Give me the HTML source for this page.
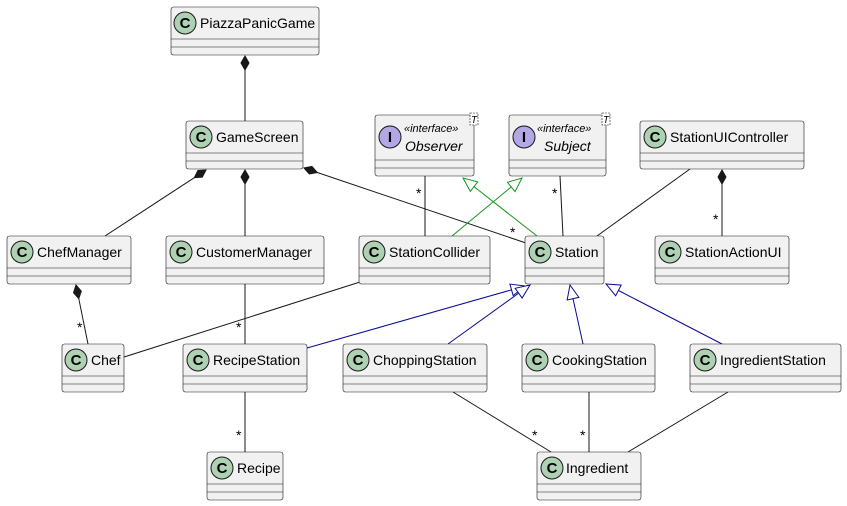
<!DOCTYPE html>
<html><head><meta charset="utf-8"><style>
html,body{margin:0;padding:0;background:#fff;}
svg{display:block;font-family:"Liberation Sans","DejaVu Sans",sans-serif;}
.b{fill:#F1F1F1;stroke:#181818;stroke-width:0.6;}
.s{stroke:#181818;stroke-width:0.6;}
.l{stroke:#181818;stroke-width:1;fill:none;}
.g{stroke:#14961E;stroke-width:1;fill:none;}
.u{stroke:#0A0A96;stroke-width:1;fill:none;}
.d{fill:#181818;stroke:#181818;stroke-width:1;}
.n{font-size:14px;fill:#000;}
.st{font-size:14px;fill:#000;}
.ci{fill:#ADD1B2;stroke:#181818;stroke-width:1;}
.ii{fill:#B4A7E5;stroke:#181818;stroke-width:1;}
.cl{font-size:15px;font-weight:bold;fill:#000;text-anchor:middle;}
</style></head><body>
<svg width="847" height="506" viewBox="0 0 847 506" xmlns="http://www.w3.org/2000/svg">
<defs>
<marker id="tg" viewBox="0 0 16 14" refX="15" refY="7" markerWidth="16" markerHeight="14" markerUnits="userSpaceOnUse" orient="auto">
<path d="M1,1 L15,7 L1,13 Z" fill="#fff" stroke="#14961E" stroke-width="1"/></marker>
<marker id="tu" viewBox="0 0 16 14" refX="15" refY="7" markerWidth="16" markerHeight="14" markerUnits="userSpaceOnUse" orient="auto">
<path d="M1,1 L15,7 L1,13 Z" fill="#fff" stroke="#0A0A96" stroke-width="1"/></marker>
</defs>

<!-- edges -->
<line class="l" x1="245" y1="70" x2="245" y2="121"/>
<polygon class="d" points="245,56 249,63 245,70 241,63"/>
<line class="l" x1="194.3" y1="177.7" x2="105" y2="236"/>
<polygon class="d" points="206,170 202.3,177.2 194.3,177.7 197.9,170.5"/>
<line class="l" x1="245" y1="184" x2="245" y2="236"/>
<polygon class="d" points="245,170 249,177 245,184 241,177"/>
<line class="l" x1="317.3" y1="172.5" x2="526" y2="243"/>
<polygon class="d" points="304,168 309.3,174 317.3,172.5 311.9,166.4"/>
<line class="l" x1="425" y1="176" x2="425" y2="236"/>
<line class="l" x1="560" y1="176" x2="563" y2="236"/>
<line class="l" x1="690" y1="169" x2="597" y2="236"/>
<line class="l" x1="722" y1="184" x2="722" y2="236"/>
<polygon class="d" points="722,170 726,177 722,184 718,177"/>
<line class="l" x1="78.8" y1="298.7" x2="88" y2="344"/>
<polygon class="d" points="76,285 73.5,292.7 78.8,298.7 81.3,291.1"/>
<line class="l" x1="360" y1="282" x2="124" y2="357"/>
<line class="l" x1="245" y1="284" x2="245" y2="344"/>
<line class="l" x1="245" y1="392" x2="245" y2="452"/>
<line class="l" x1="453" y1="392" x2="551" y2="452"/>
<line class="l" x1="589" y1="392" x2="589" y2="452"/>
<line class="l" x1="728" y1="392" x2="628" y2="452"/>
<line class="g" x1="452" y1="236" x2="522" y2="178" marker-end="url(#tg)"/>
<line class="g" x1="537" y1="236" x2="463" y2="178" marker-end="url(#tg)"/>
<line class="u" x1="307" y1="348" x2="525" y2="286" marker-end="url(#tu)"/>
<line class="u" x1="448" y1="344" x2="530" y2="285" marker-end="url(#tu)"/>
<line class="u" x1="583" y1="344" x2="570" y2="285" marker-end="url(#tu)"/>
<line class="u" x1="722" y1="344" x2="606" y2="284" marker-end="url(#tu)"/>

<g class="st">
<text x="416" y="198">*</text>
<text x="552" y="198">*</text>
<text x="510" y="237">*</text>
<text x="713" y="224">*</text>
<text x="77" y="332">*</text>
<text x="236" y="332">*</text>
<text x="236" y="440">*</text>
<text x="532" y="440">*</text>
<text x="580" y="440">*</text>
</g>

<g id="boxes">
<rect class="b" x="171" y="7" width="148" height="48" rx="2.5"/><line class="s" x1="171" y1="39" x2="319" y2="39"/><line class="s" x1="171" y1="47" x2="319" y2="47"/>
<circle class="ci" cx="185" cy="23" r="11"/><text class="cl" x="185" y="28">C</text><text class="n" x="200" y="28">PiazzaPanicGame</text>

<rect class="b" x="186" y="121" width="117" height="48" rx="2.5"/><line class="s" x1="186" y1="153" x2="303" y2="153"/><line class="s" x1="186" y1="161" x2="303" y2="161"/>
<circle class="ci" cx="201" cy="137" r="11"/><text class="cl" x="201" y="142">C</text><text class="n" x="216" y="142">GameScreen</text>

<rect class="b" x="375" y="115" width="99" height="61" rx="2.5"/><line class="s" x1="375" y1="160" x2="474" y2="160"/><line class="s" x1="375" y1="168" x2="474" y2="168"/>
<circle class="ii" cx="390" cy="137" r="11"/><text class="cl" x="390" y="142">I</text>
<text x="404" y="132" style="font-size:11px;font-style:italic">«interface»</text>
<text x="405" y="151" style="font-size:14px;font-style:italic">Observer</text>
<rect x="470" y="113" width="8" height="12" fill="#fff" stroke="#181818" stroke-width="0.6" stroke-dasharray="2,1"/><text x="471" y="123" style="font-size:10px;font-style:italic">T</text>

<rect class="b" x="509" y="115" width="97" height="61" rx="2.5"/><line class="s" x1="509" y1="160" x2="606" y2="160"/><line class="s" x1="509" y1="168" x2="606" y2="168"/>
<circle class="ii" cx="524" cy="137" r="11"/><text class="cl" x="524" y="142">I</text>
<text x="537" y="132" style="font-size:11px;font-style:italic">«interface»</text>
<text x="544" y="151" style="font-size:14px;font-style:italic">Subject</text>
<rect x="602" y="113" width="8" height="12" fill="#fff" stroke="#181818" stroke-width="0.6" stroke-dasharray="2,1"/><text x="603" y="123" style="font-size:10px;font-style:italic">T</text>

<rect class="b" x="640" y="121" width="164" height="48" rx="2.5"/><line class="s" x1="640" y1="153" x2="804" y2="153"/><line class="s" x1="640" y1="161" x2="804" y2="161"/>
<circle class="ci" cx="655" cy="137" r="11"/><text class="cl" x="655" y="142">C</text><text class="n" x="670" y="142">StationUIController</text>

<rect class="b" x="7" y="236" width="124" height="48" rx="2.5"/><line class="s" x1="7" y1="268" x2="131" y2="268"/><line class="s" x1="7" y1="276" x2="131" y2="276"/>
<circle class="ci" cx="22" cy="252" r="11"/><text class="cl" x="22" y="257">C</text><text class="n" x="37" y="257">ChefManager</text>

<rect class="b" x="166" y="236" width="158" height="48" rx="2.5"/><line class="s" x1="166" y1="268" x2="324" y2="268"/><line class="s" x1="166" y1="276" x2="324" y2="276"/>
<circle class="ci" cx="181" cy="252" r="11"/><text class="cl" x="181" y="257">C</text><text class="n" x="196" y="257">CustomerManager</text>

<rect class="b" x="359" y="236" width="131" height="48" rx="2.5"/><line class="s" x1="359" y1="268" x2="490" y2="268"/><line class="s" x1="359" y1="276" x2="490" y2="276"/>
<circle class="ci" cx="374" cy="252" r="11"/><text class="cl" x="374" y="257">C</text><text class="n" x="389" y="257">StationCollider</text>

<rect class="b" x="525" y="236" width="79" height="48" rx="2.5"/><line class="s" x1="525" y1="268" x2="604" y2="268"/><line class="s" x1="525" y1="276" x2="604" y2="276"/>
<circle class="ci" cx="540" cy="252" r="11"/><text class="cl" x="540" y="257">C</text><text class="n" x="555" y="257">Station</text>

<rect class="b" x="655" y="236" width="134" height="48" rx="2.5"/><line class="s" x1="655" y1="268" x2="789" y2="268"/><line class="s" x1="655" y1="276" x2="789" y2="276"/>
<circle class="ci" cx="670" cy="252" r="11"/><text class="cl" x="670" y="257">C</text><text class="n" x="685" y="257">StationActionUI</text>

<rect class="b" x="62" y="344" width="62" height="48" rx="2.5"/><line class="s" x1="62" y1="376" x2="124" y2="376"/><line class="s" x1="62" y1="384" x2="124" y2="384"/>
<circle class="ci" cx="76" cy="360" r="11"/><text class="cl" x="76" y="365">C</text><text class="n" x="91" y="365">Chef</text>

<rect class="b" x="183" y="344" width="124" height="48" rx="2.5"/><line class="s" x1="183" y1="376" x2="307" y2="376"/><line class="s" x1="183" y1="384" x2="307" y2="384"/>
<circle class="ci" cx="198" cy="360" r="11"/><text class="cl" x="198" y="365">C</text><text class="n" x="213" y="365">RecipeStation</text>

<rect class="b" x="343" y="344" width="144" height="48" rx="2.5"/><line class="s" x1="343" y1="376" x2="487" y2="376"/><line class="s" x1="343" y1="384" x2="487" y2="384"/>
<circle class="ci" cx="358" cy="360" r="11"/><text class="cl" x="358" y="365">C</text><text class="n" x="373" y="365">ChoppingStation</text>

<rect class="b" x="522" y="344" width="133" height="48" rx="2.5"/><line class="s" x1="522" y1="376" x2="655" y2="376"/><line class="s" x1="522" y1="384" x2="655" y2="384"/>
<circle class="ci" cx="537" cy="360" r="11"/><text class="cl" x="537" y="365">C</text><text class="n" x="552" y="365">CookingStation</text>

<rect class="b" x="690" y="344" width="151" height="48" rx="2.5"/><line class="s" x1="690" y1="376" x2="841" y2="376"/><line class="s" x1="690" y1="384" x2="841" y2="384"/>
<circle class="ci" cx="705" cy="360" r="11"/><text class="cl" x="705" y="365">C</text><text class="n" x="720" y="365">IngredientStation</text>

<rect class="b" x="207" y="452" width="76" height="48" rx="2.5"/><line class="s" x1="207" y1="484" x2="283" y2="484"/><line class="s" x1="207" y1="492" x2="283" y2="492"/>
<circle class="ci" cx="222" cy="468" r="11"/><text class="cl" x="222" y="473">C</text><text class="n" x="237" y="473">Recipe</text>

<rect class="b" x="537" y="452" width="104" height="48" rx="2.5"/><line class="s" x1="537" y1="484" x2="641" y2="484"/><line class="s" x1="537" y1="492" x2="641" y2="492"/>
<circle class="ci" cx="552" cy="468" r="11"/><text class="cl" x="552" y="473">C</text><text class="n" x="566" y="473">Ingredient</text>
</g>
</svg>
</body></html>
